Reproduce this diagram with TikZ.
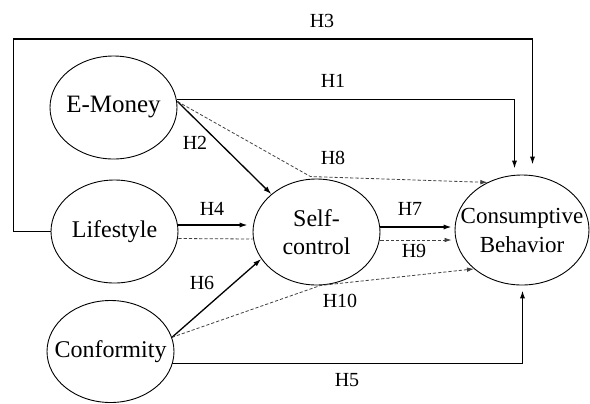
\documentclass[tikz,border=0pt]{standalone}
\usepackage{fontspec}
\setmainfont{Liberation Serif}
\usetikzlibrary{shapes,arrows.meta,calc}

\begin{document}
\begin{tikzpicture}[x=0.5pt,y=-0.5pt]
	\tikzset{var/.style={draw,ellipse,line width=0.45pt,inner xsep=-8pt,inner ysep=0pt,minimum width=63.5pt,minimum height=51.5pt,align=center,font=\fontsize{12}{14}\selectfont}}
	\tikzset{hyp/.style={inner sep=0pt,font=\fontsize{10}{12}\selectfont}}
	\tikzset{direct/.style={line width=0.65pt,-{Latex[length=4pt,width=2.6pt]}}}
	\tikzset{ind/.style={dash pattern=on 1.6pt off 1pt,line width=0.4pt,black!75}}
	\tikzset{tip/.style={-{Latex[length=3.5pt,width=2.3pt]}}}
	\useasboundingbox (0,0) rectangle (590,403);
	\node[var,font=\fontsize{12.5}{14}\selectfont] (emoney) at (113.5,107.5) {E-Money};
	\node[var] (life) at (114.5,231.5) {Lifestyle};
	\node[var,minimum height=51pt] (conf) at (110.5,351.5) {Conformity};
	\node[var,minimum height=53pt] (self) at (316.5,232) {Self-\\control};
	\node[var,minimum width=67pt,minimum height=55pt,font=\fontsize{11.5}{14.5}\selectfont] (cb) at (522,230) {Consumptive\\Behavior};
	% direct effects
	\draw[direct] ($(emoney.east)+(0,-8)$) -| ($(cb.north)+(-7.5,-6)$);
	\draw[direct] (life.west) -- ++(-37,0) -- ++(0,-192.5) -| ($(cb.north)+(10.5,-10)$);
	\draw[direct] ($(emoney.east)+(0,-6)$) -- (self.140);
	\draw[direct] ($(life.east)+(0,-6.5)$) -- ($(self.west)+(-5,-7)$);
	\draw[direct] (conf.13) -- (self.206);
	\draw[direct] ($(self.east)+(0,-5)$) -- ($(cb.west)+(-3,-3)$);
	\draw[direct] ($(conf.east)+(-2,12)$) -| ($(cb.south)+(0.5,5)$);
	% mediated effects
	\draw[ind,tip] ($(emoney.east)+(0,-6)$) -- ($(self.north)+(-6,-2)$) -- (cb.126);
	\draw[ind] ($(life.east)+(0,7)$) -- ($(self.west)+(0,7)$);
	\draw[ind,tip] ($(self.east)+(0,8)$) -- ($(cb.west)+(-3,10)$);
	\draw[ind,tip] (conf.13) -- ($(self.south)+(4,0)$) -- (cb.219);
	% labels
	\node[hyp] (h1) at (333,81) {H1};
	\node[hyp] (h2) at (195,143) {H2};
	\node[hyp] (h3) at (322,21) {H3};
	\node[hyp] (h4) at (212,209) {H4};
	\node[hyp] (h5) at (347,380) {H5};
	\node[hyp] (h6) at (202,283) {H6};
	\node[hyp] (h7) at (410,209) {H7};
	\node[hyp] (h8) at (333,158) {H8};
	\node[hyp] (h9) at (414,251) {H9};
	\node[hyp] (h10) at (340,301) {H10};
\end{tikzpicture}
\end{document}
